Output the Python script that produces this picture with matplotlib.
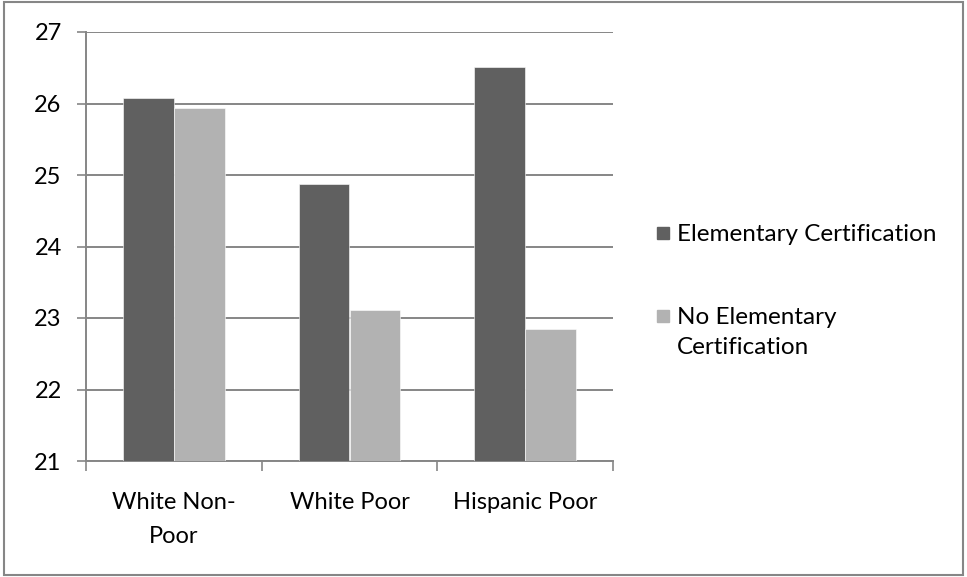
"""Grouped bar chart: elementary certification by student group."""
import matplotlib
matplotlib.use("Agg")
import matplotlib.pyplot as plt
from matplotlib.patches import Rectangle
import numpy as np

plt.rcParams["font.family"] = ["Lato", "DejaVu Sans"]

GROUPS = ["White Non-\nPoor", "White Poor", "Hispanic Poor"]
SERIES = ["Elementary Certification", "No Elementary\nCertification"]
CERT = [26.08, 24.87, 26.51]
NO_CERT = [25.94, 23.11, 22.85]

DARK, LIGHT, AXIS = "#606060", "#b2b2b2", "#868686"
FS = 17
W, H = 967, 577


def main():
    fig = plt.figure(figsize=(W / 100, H / 100), dpi=100)
    ax = fig.add_axes([86 / W, 1 - 461 / H, (613 - 86) / W, (461 - 32) / H])

    x = np.arange(len(GROUPS))
    w = 0.29
    colors = [DARK, LIGHT]
    for k, vals in enumerate([CERT, NO_CERT]):
        ax.bar(x + (k - 0.5) * w, [v - 21 for v in vals], w, bottom=21,
               color=colors[k], edgecolor="white", lw=0.4, zorder=3)

    ax.set_ylim(21, 27)
    ax.set_xlim(-0.5, len(GROUPS) - 0.5)
    ax.set_yticks(range(21, 28))
    ax.yaxis.grid(True, color=AXIS, lw=1.4, zorder=0)
    ax.tick_params(axis="y", length=6.5, width=1.2, color=AXIS, pad=11, labelsize=FS)

    ax.set_xticks(x)
    ax.set_xticklabels(GROUPS, fontsize=FS, linespacing=1.8, va="top")
    ax.set_xticks(np.arange(-0.5, len(GROUPS)), minor=True)
    ax.tick_params(axis="x", which="major", length=0, pad=22)
    ax.tick_params(axis="x", which="minor", length=7, width=1.2, color=AXIS)

    for side in ("top", "right"):
        ax.spines[side].set_visible(False)
    for side in ("left", "bottom"):
        ax.spines[side].set_color(AXIS)
        ax.spines[side].set_linewidth(1.4)

    # legend drawn by hand: Excel puts the swatch on the first line of a wrapped label
    for k, (label, ypix) in enumerate(zip(SERIES, [233, 316])):
        fig.patches.append(Rectangle((657 / W, 1 - (ypix + 6) / H), 12 / W, 12 / H,
                                     transform=fig.transFigure, color=colors[k]))
        fig.text(677 / W, 1 - (ypix - 9) / H, label, fontsize=17.5, ha="left",
                 va="top", linespacing=1.55)

    fig.patches.append(Rectangle((4 / W, 2 / H), 959 / W, 573 / H,
                                 transform=fig.transFigure, fill=False,
                                 edgecolor=AXIS, lw=1.5))

    fig.savefig("out.png", dpi=100)


if __name__ == "__main__":
    main()
